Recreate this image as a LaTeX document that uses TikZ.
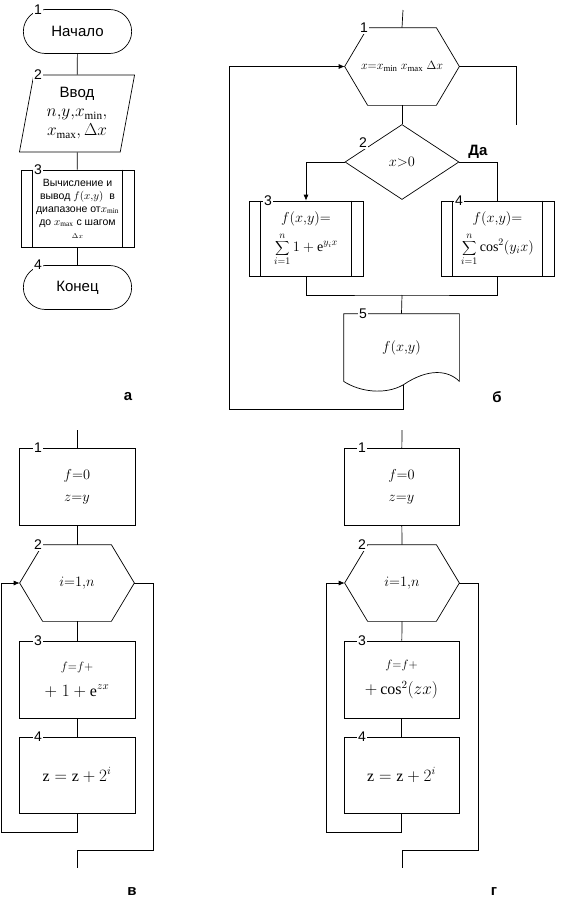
\documentclass[tikz,border=0pt]{standalone}
\usepackage{fontspec}
\setmainfont{Liberation Serif}
\setsansfont{Liberation Sans}
\usetikzlibrary{shapes.geometric,shapes.misc,calc,arrows.meta}

% hexagon (loop header) drawn round a plain node
\newcommand{\drawhex}[1]{%
  \draw (#1.west) -- ([xshift=23pt]#1.north west) -- ([xshift=-23pt]#1.north east)
    -- (#1.east) -- ([xshift=-23pt]#1.south east) -- ([xshift=23pt]#1.south west) -- cycle;}
% inner bars of a predefined process
\newcommand{\drawbars}[1]{%
  \draw ([xshift=12pt]#1.north west) -- ([xshift=12pt]#1.south west)
        ([xshift=-12pt]#1.north east) -- ([xshift=-12pt]#1.south east);}

\tikzset{
  block/.style={draw, rectangle, minimum width=116pt, minimum height=77pt, inner sep=1pt, align=center},
  term/.style={draw, rounded rectangle, minimum width=115pt, minimum height=44pt, font=\sffamily\fontsize{15}{18}\selectfont},
  hexa/.style={rectangle, minimum width=114pt, minimum height=77pt, inner sep=1pt},
  num/.style={fill=white, inner sep=1.5pt, font=\sffamily\fontsize{14}{14}\selectfont},
  tag/.style={font=\sffamily\bfseries\fontsize{15}{15}\selectfont},
  arr/.style={-{Latex[length=6pt,width=5pt]}},
}

\begin{document}
\begin{tikzpicture}[x=1pt, y=-1pt, line width=0.7pt]
    \useasboundingbox (0,0) rectangle (568,911);

    % a: program as a whole
    \node[term] (a1) at (77.5,31.5) {Начало};
    \node[draw, trapezium, trapezium left angle=79, trapezium right angle=101, trapezium stretches=true,
          minimum width=116pt, minimum height=77pt, inner sep=0pt, align=center,
          font=\fontsize{16}{19}\selectfont] (a2) at (77,113.5)
          {\sffamily\fontsize{15}{19}\selectfont Ввод\\ $n{,}y{,}x_{\min},$\\ $x_{\max},\Delta x$};
    \node[block, minimum width=113pt, font=\sffamily\fontsize{10.5}{13}\selectfont] (a3) at (77.5,208.5)
          {Вычисление и\\ вывод {\rmfamily$f(x{,}y)$} \ в\\ диапазоне от{\rmfamily$x_{\min}$}\\
           до {\rmfamily$x_{\max}$} с шагом\\ {\rmfamily$\scriptstyle\Delta x$}};
    \drawbars{a3}
    \node[term] (a4) at (77.5,287.5) {Конец};

    \draw (a1) -- (a2);
    \draw (a2) -- (a3);
    \draw (a3) -- (a4);

    %numbers of the blocks
    \node[num] (na1) at (38,10) {1};
    \node[num] (na2) at (38,75) {2};
    \node[num] (na3) at (38,170) {3};
    \node[num] (na4) at (38,265) {4};
    \node[tag] (ta) at (128,397) {а};

    % b: loop over x with branching
    \coordinate (b0) at (403,10);
    \node[hexa, font=\fontsize{12.5}{15}\selectfont] (b1) at (402,66.5) {$x{=}x_{\min}\;x_{\max}\;\Delta x$};
    \drawhex{b1}
    \node[draw, diamond, aspect=1.52, minimum width=114pt, minimum height=75pt, inner sep=0pt,
          font=\fontsize{14}{17}\selectfont] (b2) at (402,162) {$x{>}0$};
    \node[block, minimum width=114pt, minimum height=75pt, font=\fontsize{14}{17}\selectfont] (b3) at (306,238.5)
          {$f(x{,}y){=}$\\[6pt] $\displaystyle\sum_{i=1}^{n}1+\mathrm{e}^{y_i x}$};
    \drawbars{b3}
    \node[block, minimum width=113pt, minimum height=75pt, font=\fontsize{14}{17}\selectfont] (b4) at (497.5,238.5)
          {$f(x{,}y){=}$\\[6pt] $\displaystyle\sum_{i=1}^{n}\cos^2(y_i x)$};
    \drawbars{b4}
    \coordinate (bm) at (402,295);
    \node[rectangle, minimum width=115pt, minimum height=67pt, font=\fontsize{14}{17}\selectfont] (b5) at (401.5,347.5) {$f(x{,}y)$};
    \coordinate (b5out) at (403,385);
    \draw (b5.south west) -- (b5.north west) -- (b5.north east) -- (b5.south east)
        .. controls (448,370) and (428,368) .. (b5out)
        .. controls (385,395) and (360,392) .. (b5.south west);
    \coordinate (bl) at (229,409);
    \coordinate (bexit) at (516,125);

    \draw (b0) -- (b1.north);
    \draw (b1.south) -- (b2.north);
    \draw[arr] (b2.west) -| (b3.north);
    \draw (b2.east) -| (b4.north);
    \draw (b3.south) |- (bm) -| (b4.south);
    \draw (bm) -- (b5.north);
    \draw[arr] (b5out) |- (bl) |- (b1.west);
    \draw (b1.east) -| (bexit);

    \node[num] (nb1) at (364,28) {1};
    \node[num] (nb2) at (363,143) {2};
    \node[num] (nb3) at (268,201) {3};
    \node[num] (nb4) at (459,201) {4};
    \node[num] (nb5) at (363,314) {5};
    \node[tag] (yes) at (478,152) {Да};
    \node[tag] (tb) at (497,397) {б};

    % c: sum with exponent
    \coordinate (c0) at (77,430);
    \node[block, font=\fontsize{14}{22}\selectfont] (c1) at (77,487) {$f{=}0$\\ $z{=}y$};
    \node[hexa, minimum height=76pt, font=\fontsize{14}{17}\selectfont] (c2) at (77,583) {$i{=}1{,}n$};
    \drawhex{c2}
    \node[block, font=\fontsize{16}{26}\selectfont] (c3) at (77,679.5) {{\fontsize{12}{12}\selectfont$f{=}f{+}$}\\ $+\;1+\mathrm{e}^{zx}$};
    \node[block, minimum height=76pt, font=\fontsize{16}{19}\selectfont] (c4) at (77,775) {$\mathrm{z}=\mathrm{z}+2^{i}$};
    \coordinate (cl) at (1.5,832);
    \coordinate (cr) at (153,850);
    \coordinate (cend) at (77,868);

    \draw (c0) -- (c1);
    \draw (c1) -- (c2.north);
    \draw (c2.south) -- (c3);
    \draw (c3) -- (c4);
    \draw[arr] (c4.south) |- (cl) |- (c2.west);
    \draw (c2.east) -| (cr) -| (cend);

    \node[num] (nc1) at (38,448) {1};
    \node[num] (nc2) at (38,545) {2};
    \node[num] (nc3) at (38,641) {3};
    \node[num] (nc4) at (38,737) {4};
    \node[tag] (tc) at (132,892) {в};

    % d: sum with cosine
    \coordinate (d0) at (402,430);
    \node[block, minimum width=115pt, font=\fontsize{14}{22}\selectfont] (d1) at (401.5,487) {$f{=}0$\\ $z{=}y$};
    \node[hexa, minimum height=76pt, font=\fontsize{14}{17}\selectfont] (d2) at (402,583) {$i{=}1{,}n$};
    \drawhex{d2}
    \node[block, minimum width=115pt, font=\fontsize{16}{26}\selectfont] (d3) at (401.5,679.5) {{\fontsize{12}{12}\selectfont$f{=}f{+}$}\\ $+\cos^2(zx)$};
    \node[block, minimum width=115pt, minimum height=76pt, font=\fontsize{16}{19}\selectfont] (d4) at (401.5,775) {$\mathrm{z}=\mathrm{z}+2^{i}$};
    \coordinate (dl) at (326,832);
    \coordinate (dr) at (478,850);
    \coordinate (dend) at (402,868);

    \draw (d0) -- (d1);
    \draw (d1) -- (d2.north);
    \draw (d2.south) -- (d3);
    \draw (d3) -- (d4);
    \draw[arr] (d4.south) |- (dl) |- (d2.west);
    \draw (d2.east) -| (dr) -| (dend);

    \node[num] (nd1) at (362,448) {1};
    \node[num] (nd2) at (362,545) {2};
    \node[num] (nd3) at (362,641) {3};
    \node[num] (nd4) at (362,737) {4};
    \node[tag] (td) at (494,892) {г};

\end{tikzpicture}
\end{document}
